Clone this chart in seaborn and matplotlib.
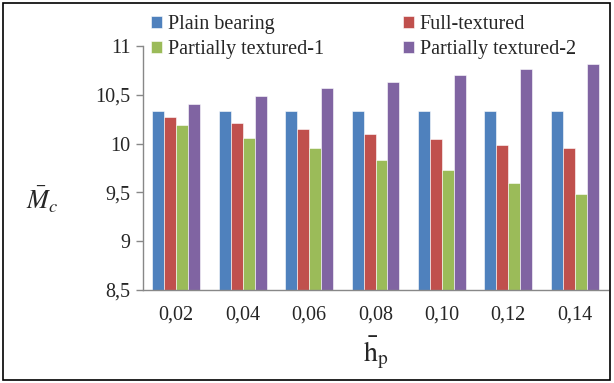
import matplotlib
matplotlib.use("Agg")
import matplotlib.pyplot as plt
import seaborn as sns
import pandas as pd
from matplotlib.patches import Rectangle

categories = ["0,02", "0,04", "0,06", "0,08", "0,10", "0,12", "0,14"]
series_names = ["Plain bearing", "Full-textured", "Partially textured-1", "Partially textured-2"]
plain = [10.33, 10.33, 10.33, 10.33, 10.33, 10.33, 10.33]
full = [10.27, 10.21, 10.15, 10.10, 10.05, 9.99, 9.95]
partial1 = [10.19, 10.06, 9.95, 9.83, 9.73, 9.60, 9.48]
partial2 = [10.41, 10.49, 10.57, 10.63, 10.70, 10.76, 10.82]
yticks = [8.5, 9, 9.5, 10, 10.5, 11]
ytick_labels = ["8,5", "9", "9,5", "10", "10,5", "11"]
colors = ["#4F81BD", "#C0504D", "#9BBB59", "#8064A2"]

rows = []
for name, vals in zip(series_names, [plain, full, partial1, partial2]):
    for c, v in zip(categories, vals):
        rows.append({"hp": c, "value": v, "series": name})
df = pd.DataFrame(rows)

sns.set_style("white")
plt.rcParams["font.family"] = "serif"
plt.rcParams["font.serif"] = ["Liberation Serif", "DejaVu Serif"]
plt.rcParams["mathtext.fontset"] = "stix"

fig = plt.figure(figsize=(6.14, 3.83), dpi=100)
ax = fig.add_axes([143/614, 1 - 290/383, (608-143)/614, (290-46)/383])

sns.barplot(data=df, x="hp", y="value", hue="series", palette=colors, saturation=1,
            width=0.72, gap=0, ax=ax, edgecolor="white", linewidth=0.4,
            legend=True)

ax.set_ylim(8.5, 11)
ax.set_xlim(-0.5, 6.5)
ax.set_yticks(yticks)
ax.set_yticklabels(ytick_labels, fontsize=14.5)
ax.set_xticks(range(len(categories)))
ax.set_xticklabels(categories, fontsize=14.5)
ax.tick_params(axis="x", which="major", length=0, pad=11)
ax.set_xticks([i - 0.5 for i in range(len(categories) + 1)], minor=True)
ax.tick_params(axis="x", which="minor", length=5, color="#888888", width=1, direction="out")
ax.tick_params(axis="y", length=5, color="#888888", width=1, direction="out", left=True, pad=4)
for s in ["top", "right"]:
    ax.spines[s].set_visible(False)
for s in ["left", "bottom"]:
    ax.spines[s].set_color("#888888")
    ax.spines[s].set_linewidth(1)

ax.set_xlabel(r"$\bar{\mathrm{h}}_{\mathrm{p}}$", fontsize=20, labelpad=7)
ax.set_ylabel(r"$\bar{M}_c$", fontsize=19, rotation=0, va="center", ha="center")
ax.yaxis.set_label_coords((42 - 143) / 465, (290 - 200) / 244)

handles, labels = ax.get_legend_handles_labels()
order = [0, 2, 1, 3]
ax.legend([handles[i] for i in order], [labels[i] for i in order], ncol=2,
          loc="upper left", bbox_to_anchor=(151/614, 1 - 15/383),
          bbox_transform=fig.transFigure, frameon=False, fontsize=14.5,
          handlelength=0.55, handleheight=0.55, handletextpad=0.3,
          columnspacing=3.9, labelspacing=0.3, borderaxespad=0, borderpad=0)

fig.patches.append(Rectangle((3/614, 3/383), 607/614, 377/383, transform=fig.transFigure,
                             fill=False, edgecolor="black", linewidth=1.2))

fig.savefig("out.png", dpi=100)
